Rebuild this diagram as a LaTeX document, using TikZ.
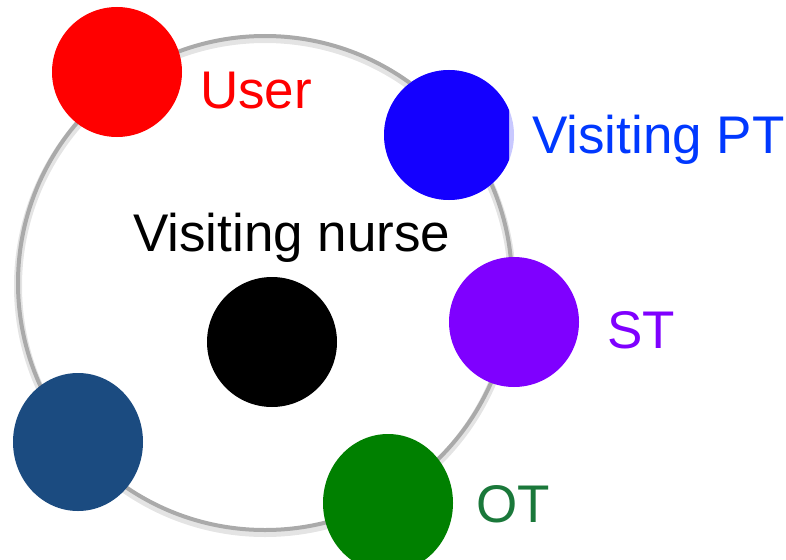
\documentclass[tikz,border=0pt]{standalone}
\usepackage{fontspec}
\setmainfont{Liberation Sans}
\usetikzlibrary{shapes}
\definecolor{ringgray}{RGB}{170,170,170}
\definecolor{ringshade}{RGB}{228,228,228}
\definecolor{userred}{RGB}{255,0,0}
\definecolor{ptblue}{RGB}{20,0,255}
\definecolor{ptpale}{RGB}{200,200,255}
\definecolor{pttext}{RGB}{0,56,255}
\definecolor{stpurple}{RGB}{127,0,255}
\definecolor{navyblue}{RGB}{27,75,128}
\definecolor{otgreen}{RGB}{0,128,0}
\definecolor{ottext}{RGB}{26,120,58}
\begin{document}
\begin{tikzpicture}[x=1pt,y=-1pt,
     dot/.style={draw=none,circle,minimum size=130pt,inner sep=0pt},
     egg/.style={draw=none,ellipse,minimum width=130pt,minimum height=138pt,inner sep=0pt},
     lbl/.style={anchor=base west,inner sep=0pt,font=\fontsize{53}{60}\selectfont}
     ]
   \useasboundingbox (0,0) rectangle (786,559);
   % ring, with a soft shadow just under it
   \draw[ringshade,line width=8pt] (265,286) circle[radius=247];
   \draw[ringgray,line width=4pt] (265,283) circle[radius=247];

   % round members
   \foreach \nm/\x/\y/\col in {user/117/72/userred,
                              nurse/272/342/black,
                              st/514/322/stpurple}
   {
     \node[dot,fill=\col] (\nm) at (\x,\y) {};
   }
   \node[egg,fill=navyblue] (other) at (78,442) {};
   \node[egg,fill=otgreen] (ot) at (388,503) {};

   % the PT dot is cut off on its right side
   \node[dot,fill=ptpale] (ptedge) at (449,135) {};
   \begin{scope}
   \clip (0,0) rectangle (509,559);
   \node[dot,fill=ptblue] (pt) at (449,135) {};
   \end{scope}

   % labels
   \foreach \nm/\x/\y/\col/\txt in {user/200/109/userred/User,
                                    pt/532/153/pttext/Visiting PT,
                                    nurse/133/251/black/Visiting nurse,
                                    st/607/348/stpurple/ST,
                                    ot/476/522/ottext/OT}
   {
     \node[lbl,text=\col] (\nm txt) at (\x,\y) {\txt};
   }
 \end{tikzpicture}
\end{document}
